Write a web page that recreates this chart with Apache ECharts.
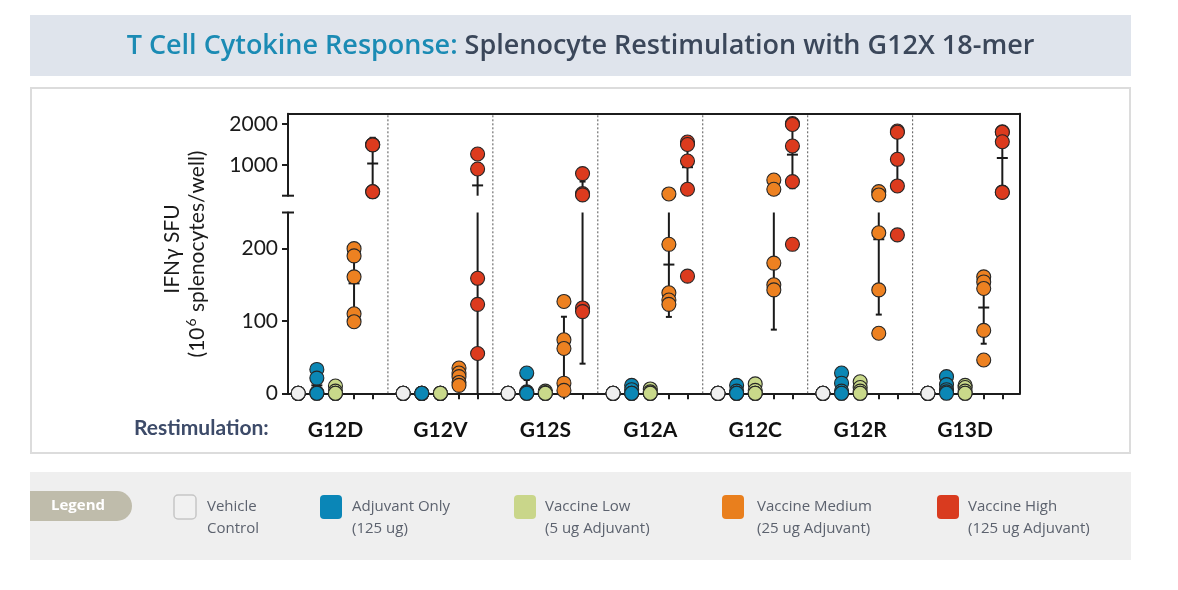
<!DOCTYPE html>
<html>
<head>
<meta charset="utf-8">
<script src="https://cdn.jsdelivr.net/npm/echarts@6/dist/echarts.min.js"></script>
<style>
  html, body { margin: 0; padding: 0; background: #ffffff; }
  #chart { width: 1178px; height: 590px; }
</style>
</head>
<body>
<div id="chart"></div>
<script>
// ---------------- data ----------------
const GROUPS = ['G12D', 'G12V', 'G12S', 'G12A', 'G12C', 'G12R', 'G13D'];
const DOSE_NAMES = ['Vehicle Control', 'Adjuvant Only (125 ug)', 'Vaccine Low (5 ug Adjuvant)',
                    'Vaccine Medium (25 ug Adjuvant)', 'Vaccine High (125 ug Adjuvant)'];
// IFNγ SFU per 10^6 splenocytes/well, one array per restimulation peptide (G12D ... G13D)
const vehicleControl = [
  [0, 0, 0, 0, 0], [0, 0, 0, 0, 0], [0, 0, 0, 0, 0], [0, 0, 0, 0, 0],
  [0, 0, 0, 0, 0], [0, 0, 0, 0, 0], [0, 0, 0, 0, 0]
];
const adjuvantOnly = [
  [33, 21, 1, 0, 0], [0, 0, 0, 0, 0], [28, 2, 1, 0, 0], [11, 5, 0, 0, 0],
  [11, 3, 0, 0, 0], [28, 14, 3, 0, 0], [23, 12, 5, 2, 0]
];
const vaccineLow = [
  [10, 3, 0, 0, 0], [0, 0, 0, 0, 0], [3, 1, 0, 0, 0], [6, 2, 0, 0, 0],
  [13, 4, 0, 0, 0], [16, 8, 3, 0, 0], [11, 8, 3, 0, 0]
];
const vaccineMedium = [
  [200, 190, 161, 110, 99], [35, 28, 23, 15, 11], [127, 74, 62, 14, 4], [293, 206, 139, 129, 123],
  [634, 407, 180, 150, 143], [349, 268, 222, 143, 83], [161, 154, 145, 87, 46]
];
const vaccineHigh = [
  [1500, 1495, 1490, 350, 345], [1268, 902, 159, 123, 55], [790, 300, 270, 118, 113], [1560, 1500, 1098, 407, 162],
  [2010, 1990, 1463, 593, 206], [1830, 1800, 1139, 488, 219], [1812, 1800, 1568, 340, 330]
];
const DOSE_VALUES = [vehicleControl, adjuvantOnly, vaccineLow, vaccineMedium, vaccineHigh];
const upperTicks = [1000, 2000];
const lowerTicks = [0, 100, 200];
const AXIS_BREAK = 250;
const UPPER_MAX = 2250;

// ---------------- styling / layout ----------------
const COLORS = ['#efefef', '#0b87b5', '#c9d98a', '#ed8121', '#dc3b1e'];
const P = 5.64;            // x-units per restimulation group
const X_MIN = -0.55, X_MAX = 38.79;
const PLOT_LEFT = 288, PLOT_W = 732;
const UP_TOP = 113.8, UP_H = 81.9;
const LO_TOP = 212.5, LO_H = 180.8;
const AXIS_COLOR = '#1c1c1c';
const NUM_FONT = 'Lato';

function xPos(g, d) { return g * P + d; }

function stats(arr) {
  const n = arr.length;
  const m = arr.reduce((a, b) => a + b, 0) / n;
  const v = n > 1 ? arr.reduce((a, b) => a + (b - m) * (b - m), 0) / (n - 1) : 0;
  const sd = Math.sqrt(v);
  return [m, m - sd, m + sd];
}

function errRenderer(segMin, segMax) {
  return function (params, api) {
    const x = api.value(0), mean = api.value(1), lo = api.value(2), hi = api.value(3);
    const ch = [];
    const st = { stroke: '#1a1a1a', lineWidth: 2 };
    const a = Math.max(lo, segMin), b = Math.min(hi, segMax);
    if (b > a) {
      const p1 = api.coord([x, a]), p2 = api.coord([x, b]);
      ch.push({ type: 'line', shape: { x1: p1[0], y1: p1[1], x2: p2[0], y2: p2[1] }, style: st });
    }
    const hcap = (val, half) => {
      const p = api.coord([x, val]);
      ch.push({ type: 'line', shape: { x1: p[0] - half, y1: p[1], x2: p[0] + half, y2: p[1] }, style: st });
    };
    if (lo > segMin && lo <= segMax) hcap(lo, 3);
    if (hi >= segMin && hi < segMax) hcap(hi, 3);
    if (mean >= segMin && mean <= segMax && hi > lo) hcap(mean, 5.5);
    return { type: 'group', children: ch };
  };
}

const series = [];
// dotted group dividers over the full plot height
const dividers = [];
for (let g = 0; g < GROUPS.length - 1; g++) dividers.push([g * P + 4 + (P - 4) / 2]);
series.push({
  type: 'custom', xAxisIndex: 0, yAxisIndex: 0, silent: true, z: 1,
  data: dividers,
  renderItem: function (params, api) {
    const x = api.value(0);
    const p1 = api.coord([x, 0]), p2 = api.coord([x, 1]);
    return { type: 'line', shape: { x1: p1[0], y1: p1[1], x2: p2[0], y2: p2[1] },
             style: { stroke: '#555', lineWidth: 1, lineDash: [2, 2] } };
  }
});
// axis-break end caps
[[1, AXIS_BREAK], [2, AXIS_BREAK]].forEach(function (c) {
  series.push({
    type: 'custom', xAxisIndex: c[0], yAxisIndex: c[0], silent: true, z: 1, clip: false,
    data: [[X_MIN, c[1]]],
    renderItem: function (params, api) {
      const p = api.coord([api.value(0), api.value(1)]);
      return { type: 'line', shape: { x1: p[0] - 6, y1: p[1], x2: p[0] + 6, y2: p[1] },
               style: { stroke: AXIS_COLOR, lineWidth: 2 } };
    }
  });
});
// error bars (mean ± SD) in both segments
const errData = [];
DOSE_VALUES.forEach(function (vals, d) {
  vals.forEach(function (arr, g) {
    const s = stats(arr);
    errData.push([xPos(g, d), s[0], s[1], s[2]]);
  });
});
series.push({ type: 'custom', xAxisIndex: 1, yAxisIndex: 1, silent: true, z: 2, data: errData,
              renderItem: errRenderer(AXIS_BREAK, UPPER_MAX) });
series.push({ type: 'custom', xAxisIndex: 2, yAxisIndex: 2, silent: true, z: 2, data: errData,
              renderItem: errRenderer(0, AXIS_BREAK) });
// points
DOSE_VALUES.forEach(function (vals, d) {
  [[1, v => v > AXIS_BREAK], [2, v => v <= AXIS_BREAK]].forEach(function (seg) {
    const data = [];
    vals.forEach(function (arr, g) {
      arr.filter(seg[1]).forEach(function (v) { data.push([xPos(g, d), v]); });
    });
    series.push({
      name: DOSE_NAMES[d], type: 'scatter', xAxisIndex: seg[0], yAxisIndex: seg[0],
      data: data, symbol: 'circle', symbolSize: 14, clip: false, z: 3, silent: true,
      itemStyle: { color: COLORS[d], borderColor: '#262626', borderWidth: 1.1, opacity: 1 }
    });
  });
});

const allSubTicks = [];
GROUPS.forEach(function (g, gi) { for (let d = 0; d < 5; d++) allSubTicks.push(xPos(gi, d)); });
const groupCenters = GROUPS.map(function (g, gi) { return xPos(gi, 2); });

const hiddenX = { type: 'value', min: X_MIN, max: X_MAX, show: false };
const plainNum = function (v) { return String(v); };

const option = {
  animation: false,
  grid: [
    { left: PLOT_LEFT, width: PLOT_W, top: UP_TOP, height: LO_TOP + LO_H - UP_TOP },
    { left: PLOT_LEFT, width: PLOT_W, top: UP_TOP, height: UP_H },
    { left: PLOT_LEFT, width: PLOT_W, top: LO_TOP, height: LO_H }
  ],
  xAxis: [
    { type: 'value', gridIndex: 0, min: X_MIN, max: X_MAX, position: 'top',
      axisLine: { show: true, onZero: false, lineStyle: { color: AXIS_COLOR, width: 2 } },
      axisTick: { show: false }, axisLabel: { show: false }, splitLine: { show: false } },
    Object.assign({ gridIndex: 1 }, hiddenX),
    { type: 'value', gridIndex: 2, min: X_MIN, max: X_MAX, position: 'bottom',
      axisLine: { show: true, onZero: false, lineStyle: { color: AXIS_COLOR, width: 2 } },
      axisTick: { show: true, customValues: allSubTicks, length: 6, lineStyle: { color: AXIS_COLOR, width: 2 } },
      axisLabel: { show: true, customValues: groupCenters, margin: 26,
                   formatter: function (v) { return GROUPS[Math.round((v - 2) / P)]; },
                   fontFamily: NUM_FONT, fontWeight: 'bold', fontSize: 21, color: '#111' },
      splitLine: { show: false } }
  ],
  yAxis: [
    { type: 'value', gridIndex: 0, min: 0, max: 1, position: 'right',
      axisLine: { show: true, onZero: false, lineStyle: { color: AXIS_COLOR, width: 2 } },
      axisTick: { show: false }, axisLabel: { show: false }, splitLine: { show: false } },
    { type: 'value', gridIndex: 1, min: AXIS_BREAK, max: UPPER_MAX, position: 'left',
      axisLine: { show: true, onZero: false, lineStyle: { color: AXIS_COLOR, width: 2 } },
      axisTick: { show: true, customValues: upperTicks, length: 6, lineStyle: { color: AXIS_COLOR, width: 2 } },
      axisLabel: { show: true, customValues: upperTicks, margin: 10, formatter: plainNum,
                   fontFamily: NUM_FONT, fontSize: 21, color: '#1a1a1a' },
      splitLine: { show: false } },
    { type: 'value', gridIndex: 2, min: 0, max: AXIS_BREAK, position: 'left',
      axisLine: { show: true, onZero: false, lineStyle: { color: AXIS_COLOR, width: 2 } },
      axisTick: { show: true, customValues: lowerTicks, length: 6, lineStyle: { color: AXIS_COLOR, width: 2 } },
      axisLabel: { show: true, customValues: lowerTicks, margin: 10, formatter: plainNum,
                   fontFamily: NUM_FONT, fontSize: 21, color: '#1a1a1a' },
      splitLine: { show: false } }
  ],
  graphic: [],
  series: series
};

// ---------------- frame, title, labels, legend ----------------
const G = option.graphic;
G.push({ type: 'rect', z: -10, silent: true, shape: { x: 30, y: 15, width: 1101, height: 61 }, style: { fill: '#dfe4ec' } });
G.push({ type: 'text', z: 10, silent: true, x: 580.5, y: 46,
  style: { text: '{a|T Cell Cytokine Response:}{b| Splenocyte Restimulation with G12X 18-mer}',
           align: 'center', verticalAlign: 'middle',
           rich: { a: { fontFamily: 'Open Sans', fontWeight: 600, fontSize: 27, fill: '#1b8bb4' },
                   b: { fontFamily: 'Open Sans', fontWeight: 600, fontSize: 27, fill: '#3b475a' } } } });
G.push({ type: 'rect', z: -10, silent: true, shape: { x: 31, y: 88, width: 1099, height: 365 },
         style: { fill: '#ffffff', stroke: '#dcdcdc', lineWidth: 2 } });
G.push({ type: 'rect', z: -10, silent: true, shape: { x: 30, y: 472, width: 1101, height: 88 }, style: { fill: '#efefef' } });
// y axis title
G.push({ type: 'text', z: 10, silent: true, x: 172, y: 249, rotation: Math.PI / 2,
  style: { text: 'IFNγ SFU', align: 'center', verticalAlign: 'middle', fontFamily: NUM_FONT, fontSize: 21, fill: '#1a1a1a' } });
G.push({ type: 'text', z: 10, silent: true, x: 197, y: 254, rotation: Math.PI / 2,
  style: { text: '(10{sup|6} splenocytes/well)', align: 'center', verticalAlign: 'middle', fontFamily: NUM_FONT, fontSize: 21, fill: '#1a1a1a',
           rich: { sup: { fontFamily: NUM_FONT, fontSize: 14, fill: '#1a1a1a', verticalAlign: 'top', padding: [0, 1, 12, 1] } } } });
G.push({ type: 'text', z: 10, silent: true, x: 134, y: 428,
  style: { text: 'Restimulation:', align: 'left', verticalAlign: 'middle', fontFamily: NUM_FONT, fontWeight: 'bold', fontSize: 21, fill: '#3d4b69' } });
// legend
G.push({ type: 'rect', z: 5, silent: true, shape: { x: 30, y: 491, width: 102, height: 30, r: [0, 15, 15, 0] }, style: { fill: '#bfbcab' } });
G.push({ type: 'text', z: 6, silent: true, x: 78, y: 506,
  style: { text: 'Legend', align: 'center', verticalAlign: 'middle', fontFamily: 'Open Sans', fontWeight: 700, fontSize: 15, fill: '#ffffff' } });
const LEG_BOX_X = [174, 320, 514, 722, 937];
const LEG_TXT_X = [207, 352, 545, 757, 968];
const LEG_LINES = [['Vehicle', 'Control'], ['Adjuvant Only', '(125 ug)'], ['Vaccine Low', '(5 ug Adjuvant)'],
                   ['Vaccine Medium', '(25 ug Adjuvant)'], ['Vaccine High', '(125 ug Adjuvant)']];
const LEG_BOX_COLORS = ['#f1f1f1', '#0a86b7', '#c9d68a', '#e97f1d', '#d93b1f'];
LEG_LINES.forEach(function (lines, i) {
  G.push({ type: 'rect', z: 5, silent: true, shape: { x: LEG_BOX_X[i], y: 495, width: 22, height: 24, r: 4 },
           style: { fill: LEG_BOX_COLORS[i], stroke: i === 0 ? '#c6c6c6' : null, lineWidth: i === 0 ? 1.5 : 0 } });
  G.push({ type: 'text', z: 6, silent: true, x: LEG_TXT_X[i], y: 507,
           style: { text: lines[0], align: 'left', verticalAlign: 'middle', fontFamily: 'Open Sans', fontSize: 15, fill: '#5c626e' } });
  G.push({ type: 'text', z: 6, silent: true, x: LEG_TXT_X[i], y: 529,
           style: { text: lines[1], align: 'left', verticalAlign: 'middle', fontFamily: 'Open Sans', fontSize: 15, fill: '#5c626e' } });
});

const chart = echarts.init(document.getElementById('chart'), null, { renderer: 'canvas' });
chart.setOption(option);
</script>
</body>
</html>
